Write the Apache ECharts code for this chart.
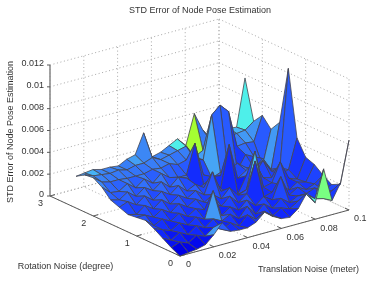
<!DOCTYPE html>
<html><head><meta charset="utf-8">
<style>html,body{margin:0;padding:0;background:#fff}#c{width:385px;height:288px}</style>
<script src="https://cdn.jsdelivr.net/npm/echarts@6/dist/echarts.min.js"></script>
</head><body><div id="c"></div>
<script>
const rotationNoise=[0,0.2,0.4,0.6,0.8,1,1.2,1.4,1.6,1.8,2,2.2,2.4];
const translationNoise=[0,0.005,0.01,0.015,0.02,0.025,0.03,0.035,0.04,0.045,0.05,0.055,0.06,0.065,0.07,0.075,0.08,0.085,0.09,0.095,0.1];
const rotationTicks=[0,1,2,3];
const translationTicks=[0,0.02,0.04,0.06,0.08,0.1];
const errorTicks=[0,0.002,0.004,0.006,0.008,0.01,0.012];
// STD error x 1000; one row per rotation noise, one column per translation noise
const errorMilli=[
[0,.1,.2,.4,1.1,2.0,1.0,.9,.9,1.2,1.9,1.3,.9,.8,1.4,2.6,1.5,4.4,1.3,2.7,6.4],
[.4,.7,.4,.9,.6,1.2,.8,1.2,.7,1.5,.9,1.4,.8,1.3,1.0,1.5,1.9,1.3,1.1,1.6,2.0],
[.9,.5,1.0,.6,1.2,.8,1.4,1.0,1.4,.8,1.7,.8,1.5,.9,1.6,1.0,1.4,1.4,1.7,1.3,1.6],
[1.4,1.1,.8,1.3,.9,1.4,1.0,3.4,.9,1.5,1.0,1.7,1.0,1.6,1.1,3.0,1.1,1.6,1.2,1.5,2.1],
[1.8,1.1,1.5,1.1,1.6,1.1,1.6,1.3,1.7,1.2,1.9,1.1,1.7,4.5,1.0,1.2,1.7,1.0,1.5,1.3,2.7],
[1.7,1.7,1.3,1.8,1.3,1.9,1.4,1.9,1.4,1.9,1.3,2.1,1.2,1.5,4.8,1.3,1.5,3.2,1.5,1.2,3.0],
[1.6,1.4,2.0,1.5,2.1,1.5,2.1,1.6,2.1,1.5,3.4,1.4,.9,.7,2.2,3.3,1.6,1.4,1.5,1.7,4.4],
[1.9,2.2,1.7,2.3,1.7,2.3,1.8,2.4,1.7,2.1,1.6,2.2,1.1,4.9,1.6,2.1,1.5,2.6,1.4,1.5,10.4],
[2.2,2.0,2.5,1.9,2.5,2.0,2.6,1.9,2.6,2.3,1.0,1.3,1.8,1.7,2.0,2.4,1.8,1.5,2.2,1.0,5.1],
[3.0,2.3,2.2,2.7,2.1,2.7,2.1,2.8,2.2,2.0,2.0,4.7,1.6,1.1,1.4,.7,1.2,2.4,2.0,1.0,4.1],
[3.5,2.9,2.7,2.7,2.6,2.6,2.6,2.8,2.7,2.9,2.6,2.8,2.7,2.4,6.3,7.0,6.2,2.8,2.9,2.8,5.0],
[3.4,3.1,3.0,2.9,3.0,2.8,3.0,3.0,3.3,2.9,3.1,3.3,3.5,2.3,2.7,3.2,3.6,3.3,3.4,3.5,4.1],
[2.9,3.0,3.1,2.9,2.9,2.8,3.2,3.4,5.2,2.8,3.0,3.4,3.8,3.0,5.7,4.0,3.0,3.5,3.5,3.4,7.7]
];
// faces whose colour level differs from their height: rotation index, translation index, level
const faceLevels=[[11,13,7],[11,19,5.2],[11,18,4.2],[10,18,3.6],[10,19,3.4],[10,13,3.8],[9,13,4],[9,14,2.2],[10,14,3.2],[11,11,5.2],[11,12,4.8],[0,16,5.4],[0,17,6.2],[0,4,3.6],[2,6,3.6],[0,15,3.6],[2,7,2],[8,19,3.6],[9,19,2],[10,16,2.4],[11,0,3.6],[11,1,4.2],[11,6,3.8],[10,15,2],[9,15,2],[7,19,2],[6,19,2],[8,14,2.1],[8,13,2]];
const titleText='STD Error of Node Pose Estimation';
const errorAxisName='STD Error of Node Pose Estimation';
const rotationAxisName='Rotation Noise (degree)';
const translationAxisName='Translation Noise (meter)';

const levelColors=[[0,[0,0,230]],[0.8,[15,35,252]],[2,[40,90,255]],[3,[60,135,245]],[4,[70,165,245]],[5,[70,235,255]],[6,[110,255,150]],[7,[165,255,50]]];
function colorOf(l){
  let k=0; while(k<levelColors.length-2&&l>levelColors[k+1][0])k++;
  const a=levelColors[k],b=levelColors[k+1],f=Math.min(1,Math.max(0,(l-a[0])/(b[0]-a[0])));
  return 'rgb('+a[1].map((v,n)=>Math.round(v+(b[1][n]-v)*f)).join(',')+')';
}
// orthographic view of the box
function proj(r,t,z){return [180-r/3*130+t/0.1*169, 256-r/3*60-t/0.1*46-z/0.012*131];}

const faces=[];
for(let i=rotationNoise.length-2;i>=0;i--)for(let j=translationNoise.length-2;j>=0;j--)faces.push([i,j]);
const levelMap={};faceLevels.forEach(f=>levelMap[f[0]+'_'+f[1]]=f[2]);

const segs=[];
const dot={stroke:'#a8a8a8',lineWidth:1,lineDash:[1,2.6]};
function seg(a,b,s){segs.push({a,b,s});}
const rMax=3,tMax=0.1,zMax=0.012;
rotationTicks.forEach(r=>{
  seg(proj(r,0,0),proj(r,tMax,0),dot);
  seg(proj(r,tMax,0),proj(r,tMax,zMax),dot);
});
translationTicks.forEach(t=>{
  seg(proj(0,t,0),proj(rMax,t,0),dot);
  seg(proj(rMax,t,0),proj(rMax,t,zMax),dot);
});
errorTicks.forEach(z=>{
  seg(proj(rMax,0,z),proj(rMax,tMax,z),dot);
  seg(proj(rMax,tMax,z),proj(0,tMax,z),dot);
});
const axisDark={stroke:'#5a5a5a',lineWidth:1};
const axisGrey={stroke:'#8c8c8c',lineWidth:1.6};
seg(proj(rMax,0,0),proj(0,0,0),axisDark);
seg(proj(0,0,0),proj(0,tMax,0),axisDark);
seg(proj(rMax,0,0),proj(rMax,0,zMax),axisGrey);
errorTicks.forEach(z=>{const p=proj(rMax,0,z);seg([p[0]-3,p[1]],p,axisDark);});
rotationTicks.forEach(r=>{const p=proj(r,0,0);seg(p,[p[0]+5,p[1]-1.4],axisDark);});
translationTicks.forEach(t=>{const p=proj(0,t,0);seg(p,[p[0]-4,p[1]-1.9],axisDark);});

const labels=[];
const font='9px "Liberation Sans", Arial, sans-serif';
const txt='#333';
errorTicks.forEach(z=>{const p=proj(rMax,0,z);labels.push({x:p[0]-6,y:p[1]-1,text:String(z),align:'right'});});
rotationTicks.forEach(r=>{const p=proj(r,0,0);labels.push({x:p[0]-9.5,y:p[1]+7.5,text:String(r),align:'center'});});
translationTicks.forEach(t=>{const p=proj(0,t,0);labels.push({x:p[0]+(t===0?6:5),y:p[1]+9,text:String(t),align:'left'});});
labels.push({x:65.5,y:267,text:rotationAxisName,align:'center'});
labels.push({x:308.5,y:270,text:translationAxisName,align:'center'});
labels.push({x:11,y:132,text:errorAxisName,align:'center',rot:Math.PI/2});
labels.push({x:200,y:10.5,text:titleText,align:'center'});

const chart=echarts.init(document.getElementById('c'),null,{renderer:'canvas'});
chart.setOption({
  animation:false,
  backgroundColor:'#fff',
  grid:{left:0,right:0,top:0,bottom:0},
  xAxis:{type:'value',min:0,max:385,show:false},
  yAxis:{type:'value',min:0,max:288,inverse:true,show:false},
  series:[
  {type:'custom',silent:true,clip:false,z:1,coordinateSystem:'cartesian2d',
   data:segs.map((s,n)=>[n,0]),
   renderItem(params,api){
     const s=segs[params.dataIndex],a=api.coord(s.a),b=api.coord(s.b);
     return {type:'line',shape:{x1:a[0],y1:a[1],x2:b[0],y2:b[1]},style:Object.assign({fill:null},s.s)};
   }},
  {type:'custom',silent:true,clip:false,z:2,coordinateSystem:'cartesian2d',
   data:faces,
   renderItem(params,api){
     const i=api.value(0),j=api.value(1);
     const corners=[[i,j],[i+1,j],[i+1,j+1],[i,j+1]];
     const pts=corners.map(c=>api.coord(proj(rotationNoise[c[0]],translationNoise[c[1]],errorMilli[c[0]][c[1]]/1000)));
     const k=i+'_'+j;
     const level=k in levelMap?levelMap[k]:errorMilli[i][j];
     return {type:'polygon',shape:{points:pts},style:{fill:colorOf(level),stroke:'#45454f',lineWidth:0.8,lineJoin:'round'}};
   }},
  {type:'custom',silent:true,clip:false,z:3,coordinateSystem:'cartesian2d',
   data:labels.map((l,n)=>[n,0]),
   renderItem(params,api){
     const l=labels[params.dataIndex],p=api.coord([l.x,l.y]);
     return {type:'text',x:p[0],y:p[1],rotation:l.rot||0,
       style:{text:l.text,x:0,y:0,fill:txt,font:font,align:l.align,verticalAlign:'middle'}};
   }}
  ]
});
</script></body></html>
